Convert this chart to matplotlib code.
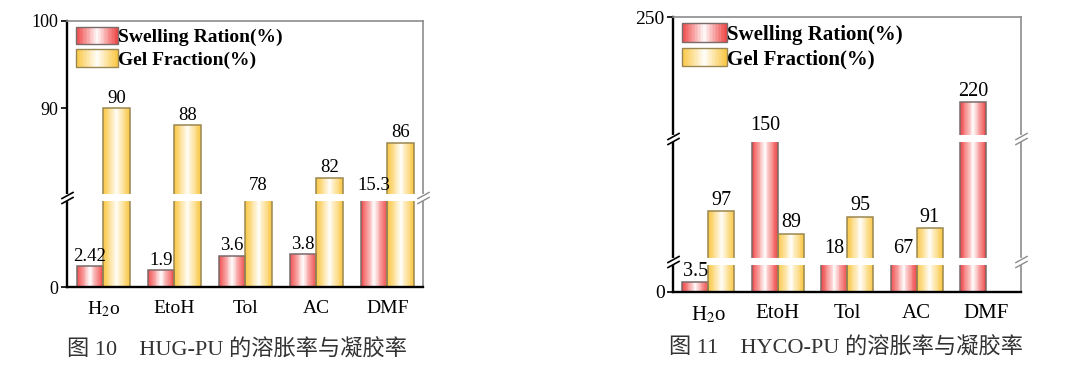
import numpy as np
import matplotlib
matplotlib.use('Agg')
import matplotlib.pyplot as plt
import matplotlib.transforms as mtransforms
from matplotlib.patches import Rectangle
from matplotlib.legend_handler import HandlerBase
from matplotlib.path import Path

plt.rcParams['font.family'] = ['Liberation Serif', 'Noto Sans CJK SC']
plt.rcParams['mathtext.fontset'] = 'stix'

categories = ['H$_2$o', 'EtoH', 'Tol', 'AC', 'DMF']
hug_swelling = [2.42, 1.9, 3.6, 3.8, 15.3]
hug_gel = [90, 88, 78, 82, 86]
hyco_swelling = [3.5, 150, 18, 67, 220]
hyco_gel = [97, 89, 95, 91, None]
series_names = ['Swelling Ration(%)', 'Gel Fraction(%)']
captions = ['图 10　HUG-PU 的溶胀率与凝胶率', '图 11　HYCO-PU 的溶胀率与凝胶率']

# broken y axis: value knots and the relative height each one sits at
hug_knots = [0, 10, 80, 100]
hug_heights = [0, 87, 92, 266]
hyco_knots = [0, 10, 80, 122, 208, 250]
hyco_heights = [0, 28, 33, 151, 156, 275]

RED = np.array([0.94, 0.27, 0.27])
GOLD = np.array([0.98, 0.78, 0.26])
RED_EDGE = '#7a6a6a'
GOLD_EDGE = '#9a8650'


def shade(base, t):
    a = min(1.0, abs(t - 0.5) * 2) ** 0.9
    return tuple((1 - a) * np.ones(3) + a * base)


def gradient_bar(ax, x, h, w, base, edge, n=30):
    xs = x - w / 2 + (np.arange(n) + 0.5) * w / n
    cols = [shade(base, (i + 0.5) / n) for i in range(n)]
    ax.bar(xs, h, w / n, color=cols, linewidth=0, antialiased=False, zorder=2)
    ax.bar(x, h, w, facecolor='none', edgecolor=edge, linewidth=1.1, zorder=2.1)


class GradientHandler(HandlerBase):
    def __init__(self, base, edge):
        super().__init__()
        self.base = base
        self.edge = edge

    def create_artists(self, legend, orig_handle, xdescent, ydescent,
                       width, height, fontsize, trans):
        n = 30
        arts = []
        for i in range(n):
            arts.append(Rectangle((-xdescent + i * width / n, -ydescent), width / n * 1.05, height,
                                  facecolor=shade(self.base, (i + 0.5) / n), linewidth=0,
                                  antialiased=False, transform=trans))
        arts.append(Rectangle((-xdescent, -ydescent), width, height, facecolor='none',
                              edgecolor=self.edge, linewidth=1.0, transform=trans))
        return arts


def label_height(v, knots):
    # values that fall inside a break get their label just above it
    for k in range(1, len(knots) - 1, 2):
        if knots[k] < v < knots[k + 1]:
            return knots[k + 1]
    return v


slash = Path([(-1, -0.55), (1, 0.55)], [Path.MOVETO, Path.LINETO])


def draw_panel(ax, swelling, gel, knots, heights, yticks, fs, caption, cap_xy):
    fwd = lambda v: np.interp(v, knots, heights)
    inv = lambda p: np.interp(p, heights, knots)
    ax.set_yscale('function', functions=(fwd, inv))

    x = np.arange(len(categories))
    w = 0.375
    for i in range(len(categories)):
        gradient_bar(ax, x[i] - w / 2, swelling[i], w, RED, RED_EDGE)
        ax.annotate(f'{swelling[i]:g}', (x[i] - w / 2, label_height(swelling[i], knots)),
                    xytext=(0, 1), textcoords='offset points', ha='center', va='bottom',
                    fontsize=fs, zorder=6)
        if gel[i] is not None:
            gradient_bar(ax, x[i] + w / 2, gel[i], w, GOLD, GOLD_EDGE)
            ax.annotate(f'{gel[i]:g}', (x[i] + w / 2, label_height(gel[i], knots)),
                        xytext=(0, 1), textcoords='offset points', ha='center', va='bottom',
                        fontsize=fs, zorder=6)

    ax.set_xlim(-0.51, 4.5)
    ax.set_ylim(knots[0], knots[-1])
    ax.set_xticks(x)
    ax.set_xticklabels(categories)
    ax.set_yticks(yticks)
    ax.set_yticklabels([f'{t:g}' for t in yticks])
    ax.tick_params(axis='x', length=0, pad=9, labelsize=fs + 0.5)
    ax.tick_params(axis='y', direction='out', length=4, width=1.2, pad=2, labelsize=fs - 0.5)

    for side in ['left', 'bottom']:
        ax.spines[side].set_linewidth(1.7)
        ax.spines[side].set_color('black')
    for side in ['top', 'right']:
        ax.spines[side].set_linewidth(1.2)
        ax.spines[side].set_color('#8c8c8c')

    # white bands and // marks for each break
    trans = mtransforms.blended_transform_factory(ax.transAxes, ax.transData)
    for k in range(1, len(knots) - 1, 2):
        lo, hi = knots[k], knots[k + 1]
        ax.add_patch(Rectangle((-0.02, lo), 1.04, hi - lo, transform=trans, facecolor='white',
                               edgecolor='white', linewidth=1.5, zorder=3, clip_on=False))
        ax.plot([0, 0], [lo, hi], transform=trans, linestyle='none', marker=slash, markersize=9,
                markeredgecolor='black', markeredgewidth=1.2, clip_on=False, zorder=4)
        ax.plot([1, 1], [lo, hi], transform=trans, linestyle='none', marker=slash, markersize=9,
                markeredgecolor='#8c8c8c', markeredgewidth=1.0, clip_on=False, zorder=4)

    handles = [Rectangle((0, 0), 1, 1), Rectangle((0, 0), 1, 1)]
    ax.legend(handles, series_names,
              handler_map={handles[0]: GradientHandler(RED, RED_EDGE),
                           handles[1]: GradientHandler(GOLD, GOLD_EDGE)},
              loc='upper left', bbox_to_anchor=(0.02, 0.985), frameon=False,
              prop={'weight': 'bold', 'size': fs + 0.5}, handlelength=2.15, handleheight=1.0,
              handletextpad=0.0, labelspacing=0.15, borderpad=0.1, borderaxespad=0)

    fig.text(cap_xy[0], cap_xy[1], caption, ha='center', va='center', fontsize=16,
             color='#333333')


fig = plt.figure(figsize=(10.8, 3.77), dpi=100)
ax1 = fig.add_axes([0.062, 0.2387, 0.3296, 0.7056])
ax2 = fig.add_axes([0.6231, 0.2255, 0.3222, 0.7294])

draw_panel(ax1, hug_swelling, hug_gel, hug_knots, hug_heights, [0, 90, 100], 13.5,
           captions[0], (0.219, 0.072))
draw_panel(ax2, hyco_swelling, hyco_gel, hyco_knots, hyco_heights, [0, 250], 14.5,
           captions[1], (0.783, 0.077))

fig.savefig('out.png', dpi=100)
